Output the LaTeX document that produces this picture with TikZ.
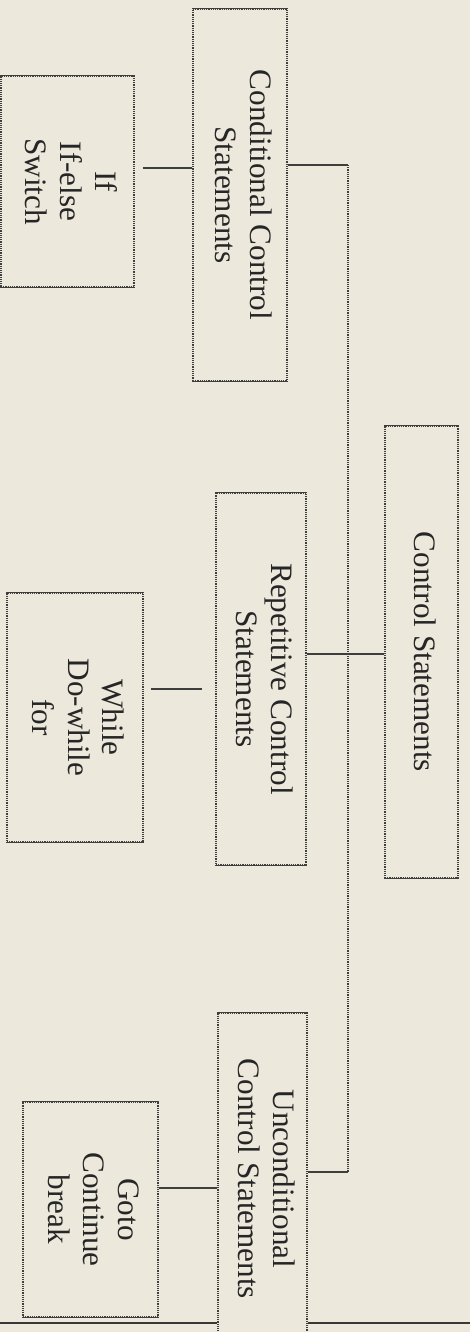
\documentclass[tikz,border=0pt]{standalone}
\usepackage{fontspec}
\setmainfont{Liberation Serif}
\usepackage{graphicx}
\definecolor{paper}{RGB}{236,232,220}
\definecolor{ink}{RGB}{62,62,60}
\definecolor{txt}{RGB}{38,38,38}
\newcommand{\rtext}[1]{\rotatebox{-90}{\fontsize{15.6}{17.5}\selectfont\begin{tabular}{@{}c@{}}#1\end{tabular}}}
\tikzset{
  x=0.5pt, y=-0.5pt,
  boxnode/.style={rectangle, draw=ink, line width=0.7pt, dash pattern=on 0.6pt off 0.5pt,
                  inner sep=0pt, text=txt},
  edgeline/.style={draw=ink, line width=0.75pt},
  trunkline/.style={draw=ink, line width=0.7pt, dash pattern=on 0.6pt off 0.5pt},
  baseline/.style={draw=ink!90!black, line width=1.1pt}
}
\begin{document}
\begin{tikzpicture}
\fill[paper] (0,0) rectangle (470,1332);
\useasboundingbox (0,0) rectangle (470,1332);

% boxes
\node[boxnode, minimum width=47pt, minimum height=186pt] (cond) at (240,195)
  {\rtext{Conditional Control\\Statements}};
\node[boxnode, minimum width=66.5pt, minimum height=105.5pt] (ifb) at (67.5,181.5)
  {\rtext{If\\If-else\\Switch}};
\node[boxnode, minimum width=36.5pt, minimum height=226pt] (ctrl) at (421.5,652)
  {\rtext{Control Statements}};
\node[boxnode, minimum width=45pt, minimum height=186pt] (rep) at (261,679)
  {\rtext{Repetitive Control\\Statements}};
\node[boxnode, minimum width=68pt, minimum height=124.5pt] (whileb) at (75,717.5)
  {\rtext{While\\Do-while\\for}};
\node[boxnode, minimum width=44.5pt, minimum height=166pt] (uncond) at (262.5,1179)
  {\rtext{Unconditional\\Control Statements}};
\node[boxnode, minimum width=67.5pt, minimum height=107.5pt] (goto) at (90.5,1209.5)
  {\rtext{Goto\\Continue\\break}};

% solid horizontal edges of the boxes
\foreach \n in {cond,ifb,ctrl,rep,whileb,uncond,goto}{
  \draw[edgeline] (\n.north west) -- (\n.north east);
  \draw[edgeline] (\n.south west) -- (\n.south east);
}

% trunk
\coordinate (tTop) at (348,165);
\coordinate (tMid) at (348,654);
\coordinate (tBot) at (348,1172);
\draw[edgeline] (cond.east |- tTop) -- (tTop);
\draw[trunkline] (tTop) -- (tBot);
\draw[edgeline] (tBot) -- (uncond.east |- tBot);
\draw[edgeline] (rep.east |- tMid) -- (tMid) -- (ctrl.west |- tMid);

% children connectors
\coordinate (cA) at (160,168);
\draw[edgeline, shorten <=4pt] (ifb.east |- cA) -- (cond.west |- cA);
\coordinate (cB) at (180,689);
\draw[edgeline, shorten <=3.5pt, shorten >=6.5pt] (whileb.east |- cB) -- (rep.west |- cB);
\coordinate (cC) at (190,1188);
\draw[edgeline] (goto.east |- cC) -- (uncond.west |- cC);

% bottom rule
\coordinate (bL) at (0,1323);
\coordinate (bR) at (470,1323);
\draw[baseline] (bL) -- (uncond.west |- bL);
\draw[baseline] (uncond.east |- bR) -- (bR);
\end{tikzpicture}
\end{document}
